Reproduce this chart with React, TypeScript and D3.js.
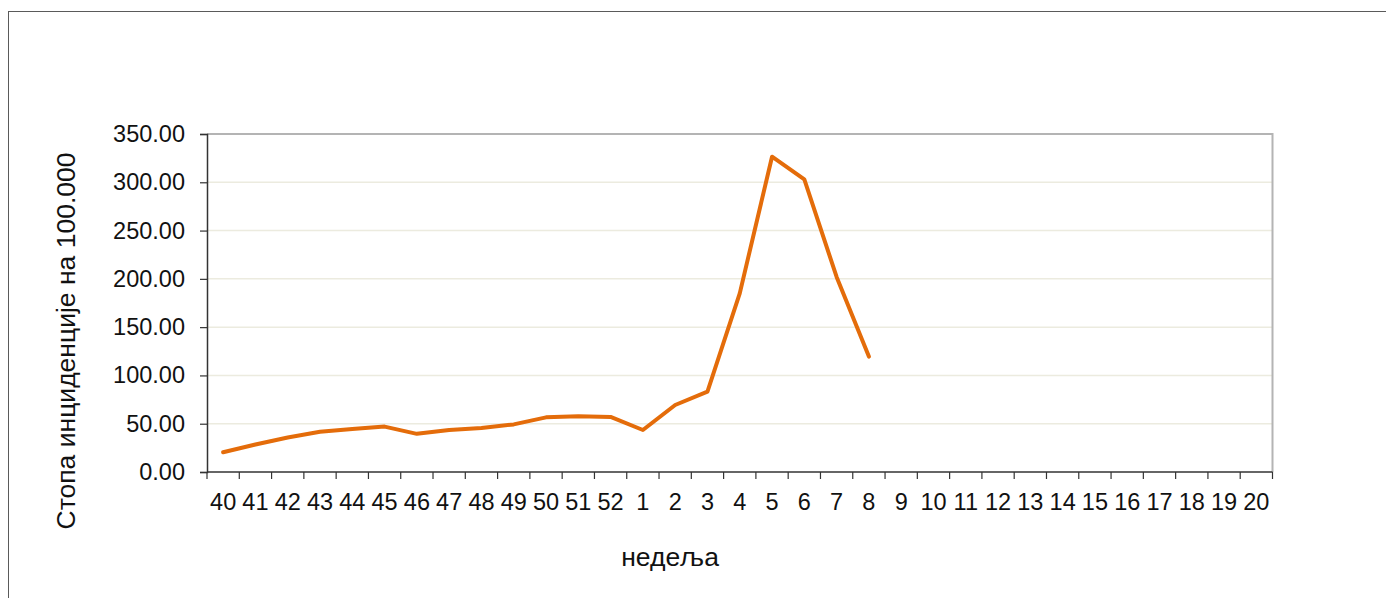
import React, { useEffect, useRef } from 'react';
import * as d3 from 'd3';

const weeks = ['40', '41', '42', '43', '44', '45', '46', '47', '48', '49', '50', '51', '52',
    '1', '2', '3', '4', '5', '6', '7', '8', '9', '10', '11', '12', '13', '14', '15', '16', '17', '18', '19', '20'];
const rateWeeks = ['40', '41', '42', '43', '44', '45', '46', '47', '48', '49', '50', '51', '52',
    '1', '2', '3', '4', '5', '6', '7', '8'];
const rates = [20.5, 28.5, 35.8, 41.6, 44.5, 47, 39.5, 43.5, 45.5, 49.3, 56.6, 57.8, 57,
    43.5, 69.4, 83.2, 185, 326.5, 303, 202, 119.5];
const yTicks = [0, 50, 100, 150, 200, 250, 300, 350];

const yTitle = 'Стопа инциденције на 100.000';
const xTitle = 'недеља';

export default function App() {
    const ref = useRef<SVGSVGElement>(null);

    useEffect(() => {
        if (!ref.current) return;
        const svg = d3.select(ref.current);
        svg.selectAll('*').remove();

        const width = 1386;
        const height = 598;
        const font = '"Liberation Sans", Arial, sans-serif';
        const plot = { left: 207, right: 1272.5, top: 134, bottom: 472 };

        svg.attr('width', width).attr('height', height);

        // outer frame (runs off the right/bottom edge)
        svg.append('rect')
            .attr('x', 8.5).attr('y', 11.5)
            .attr('width', width + 20).attr('height', height + 20)
            .attr('fill', 'white').attr('stroke', '#5a5a5a').attr('stroke-width', 1);

        const x = d3.scaleBand()
            .domain(weeks)
            .range([plot.left, plot.right])
            .padding(0);

        const y = d3.scaleLinear()
            .domain([0, 350])
            .range([plot.bottom, plot.top]);

        // gridlines
        svg.append('g')
            .selectAll('line')
            .data(yTicks.filter(t => t > 0 && t < 350))
            .enter()
            .append('line')
            .attr('x1', plot.left).attr('x2', plot.right)
            .attr('y1', d => y(d)).attr('y2', d => y(d))
            .attr('stroke', '#ecebdf').attr('stroke-width', 1.5);

        // top and right frame of plot
        svg.append('path')
            .attr('d', `M${plot.left},${y(350)}H${plot.right}V${plot.bottom}`)
            .attr('fill', 'none').attr('stroke', '#b4b4b4').attr('stroke-width', 2);

        // y axis
        const yAxis = svg.append('g')
            .attr('transform', `translate(${plot.left},0)`)
            .call(d3.axisLeft(y).tickValues(yTicks).tickFormat(d3.format('.2f')).tickSize(7).tickPadding(15));
        yAxis.select('.domain').attr('stroke', '#333').attr('stroke-width', 1.5);
        yAxis.selectAll('.tick line').attr('stroke', '#333').attr('stroke-width', 1.2);
        yAxis.selectAll('text')
            .attr('font-family', font).attr('font-size', 23.5).attr('fill', '#111');

        // x axis: labels at band centres, ticks at band edges
        const xAxis = svg.append('g')
            .attr('transform', `translate(0,${plot.bottom})`)
            .call(d3.axisBottom(x).tickSize(0).tickPadding(21));
        xAxis.select('.domain').remove();
        xAxis.selectAll('text')
            .attr('font-family', font).attr('font-size', 23.5).attr('fill', '#111');

        const edges = weeks.map(w => x(w)!).concat([plot.right]);
        svg.append('g')
            .selectAll('line')
            .data(edges)
            .enter()
            .append('line')
            .attr('x1', d => d).attr('x2', d => d)
            .attr('y1', plot.bottom).attr('y2', plot.bottom + 7)
            .attr('stroke', '#333').attr('stroke-width', 1.2);
        svg.append('line')
            .attr('x1', plot.left).attr('x2', plot.right)
            .attr('y1', plot.bottom).attr('y2', plot.bottom)
            .attr('stroke', '#333').attr('stroke-width', 1.5);

        // series
        const line = d3.line<number>()
            .x((_, i) => x(rateWeeks[i])! + x.bandwidth() / 2)
            .y(d => y(d));
        svg.append('path')
            .datum(rates)
            .attr('d', line)
            .attr('fill', 'none')
            .attr('stroke', '#e46c0a')
            .attr('stroke-width', 4)
            .attr('stroke-linejoin', 'round')
            .attr('stroke-linecap', 'round');

        // titles
        svg.append('text')
            .attr('transform', 'translate(75,341) rotate(-90)')
            .attr('text-anchor', 'middle')
            .attr('font-family', font).attr('font-size', 26.5).attr('fill', '#111')
            .text(yTitle);
        svg.append('text')
            .attr('x', 670).attr('y', 566)
            .attr('text-anchor', 'middle')
            .attr('font-family', font).attr('font-size', 26.5).attr('fill', '#111')
            .text(xTitle);
    }, []);

    return <svg ref={ref} style={{ position: 'absolute', left: 0, top: 0, display: 'block' }} />;
}
